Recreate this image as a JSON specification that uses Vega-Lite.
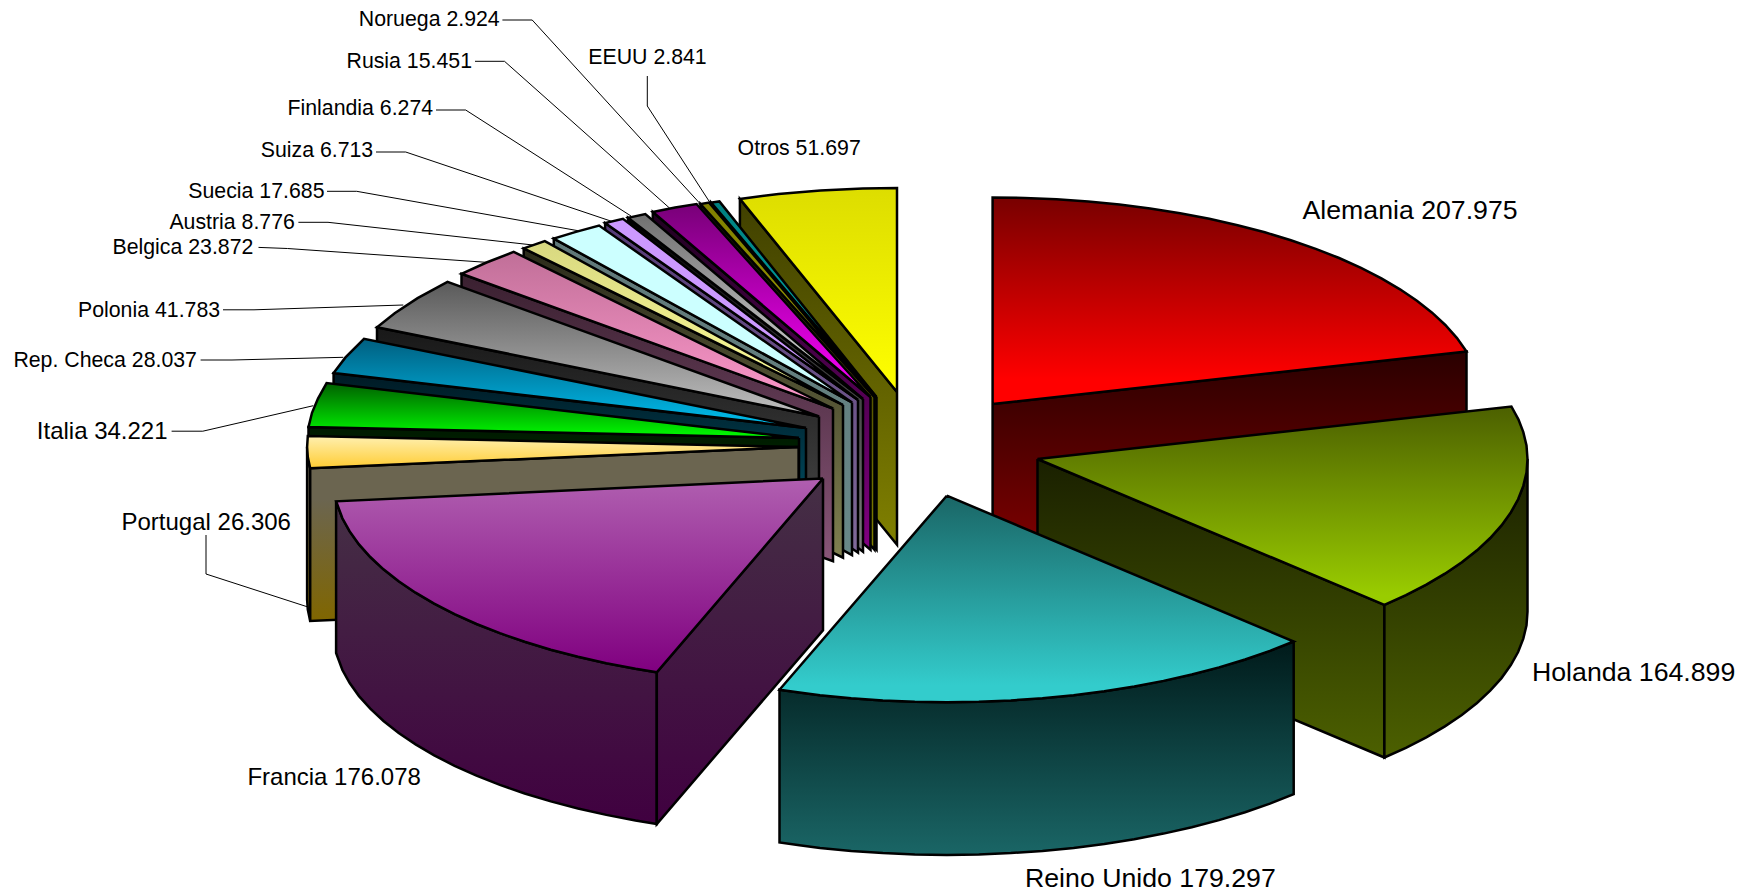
{"$schema":"https://vega.github.io/schema/vega-lite/v6.json","width":1747,"height":896,"padding":0,"autosize":{"type":"none"},"background":"white","view":{"stroke":null},
"datasets":{
"caras":[
{"cara":"Otros Lat","n":0,"x":897,"y":392},{"cara":"Otros Lat","n":1,"x":739.9,"y":198.9},{"cara":"Otros Lat","n":2,"x":739.9,"y":351.6},{"cara":"Otros Lat","n":3,"x":897,"y":544.7},{"cara":"Otros Lat","n":4,"x":897,"y":392},
{"cara":"Otros Sup","n":0,"x":897,"y":392},{"cara":"Otros Sup","n":1,"x":739.9,"y":198.9},{"cara":"Otros Sup","n":2,"x":778.5,"y":194},{"cara":"Otros Sup","n":3,"x":820.4,"y":190.5},{"cara":"Otros Sup","n":4,"x":862.8,"y":188.5},{"cara":"Otros Sup","n":5,"x":897,"y":188},{"cara":"Otros Sup","n":6,"x":897,"y":392},
{"cara":"EEUU Lat","n":0,"x":876.5,"y":397},{"cara":"EEUU Lat","n":1,"x":711.1,"y":202.6},{"cara":"EEUU Lat","n":2,"x":711.1,"y":355.3},{"cara":"EEUU Lat","n":3,"x":876.5,"y":549.7},{"cara":"EEUU Lat","n":4,"x":876.5,"y":397},
{"cara":"EEUU Sup","n":0,"x":876.5,"y":397},{"cara":"EEUU Sup","n":1,"x":711.1,"y":202.6},{"cara":"EEUU Sup","n":2,"x":719.4,"y":201.4},{"cara":"EEUU Sup","n":3,"x":876.5,"y":397},
{"cara":"Noruega Lat","n":0,"x":874.5,"y":397},{"cara":"Noruega Lat","n":1,"x":700.5,"y":204},{"cara":"Noruega Lat","n":2,"x":700.5,"y":356.7},{"cara":"Noruega Lat","n":3,"x":874.5,"y":549.7},{"cara":"Noruega Lat","n":4,"x":874.5,"y":397},
{"cara":"Noruega Sup","n":0,"x":874.5,"y":397},{"cara":"Noruega Sup","n":1,"x":700.5,"y":204},{"cara":"Noruega Sup","n":2,"x":709.1,"y":202.6},{"cara":"Noruega Sup","n":3,"x":874.5,"y":397},
{"cara":"Rusia Lat","n":0,"x":870.5,"y":397},{"cara":"Rusia Lat","n":1,"x":652.8,"y":212},{"cara":"Rusia Lat","n":2,"x":652.8,"y":364.7},{"cara":"Rusia Lat","n":3,"x":870.5,"y":549.7},{"cara":"Rusia Lat","n":4,"x":870.5,"y":397},
{"cara":"Rusia Sup","n":0,"x":870.5,"y":397},{"cara":"Rusia Sup","n":1,"x":652.8,"y":212},{"cara":"Rusia Sup","n":2,"x":675.1,"y":207.6},{"cara":"Rusia Sup","n":3,"x":696.5,"y":204},{"cara":"Rusia Sup","n":4,"x":870.5,"y":397},
{"cara":"Finlandia Lat","n":0,"x":863,"y":399},{"cara":"Finlandia Lat","n":1,"x":628,"y":217.8},{"cara":"Finlandia Lat","n":2,"x":628,"y":370.5},{"cara":"Finlandia Lat","n":3,"x":863,"y":551.7},{"cara":"Finlandia Lat","n":4,"x":863,"y":399},
{"cara":"Finlandia Sup","n":0,"x":863,"y":399},{"cara":"Finlandia Sup","n":1,"x":628,"y":217.8},{"cara":"Finlandia Sup","n":2,"x":645.3,"y":214},{"cara":"Finlandia Sup","n":3,"x":863,"y":399},
{"cara":"Suiza Lat","n":0,"x":858,"y":400},{"cara":"Suiza Lat","n":1,"x":605.1,"y":223.1},{"cara":"Suiza Lat","n":2,"x":605.1,"y":375.8},{"cara":"Suiza Lat","n":3,"x":858,"y":552.7},{"cara":"Suiza Lat","n":4,"x":858,"y":400},
{"cara":"Suiza Sup","n":0,"x":858,"y":400},{"cara":"Suiza Sup","n":1,"x":605.1,"y":223.1},{"cara":"Suiza Sup","n":2,"x":623,"y":218.8},{"cara":"Suiza Sup","n":3,"x":858,"y":400},
{"cara":"Suecia Lat","n":0,"x":852,"y":402.5},{"cara":"Suecia Lat","n":1,"x":553.8,"y":238.6},{"cara":"Suecia Lat","n":2,"x":553.8,"y":391.3},{"cara":"Suecia Lat","n":3,"x":852,"y":555.2},{"cara":"Suecia Lat","n":4,"x":852,"y":402.5},
{"cara":"Suecia Sup","n":0,"x":852,"y":402.5},{"cara":"Suecia Sup","n":1,"x":553.8,"y":238.6},{"cara":"Suecia Sup","n":2,"x":575.9,"y":231.9},{"cara":"Suecia Sup","n":3,"x":599.1,"y":225.6},{"cara":"Suecia Sup","n":4,"x":852,"y":402.5},
{"cara":"Austria Lat","n":0,"x":843,"y":405},{"cara":"Austria Lat","n":1,"x":523.7,"y":248.4},{"cara":"Austria Lat","n":2,"x":523.7,"y":401.1},{"cara":"Austria Lat","n":3,"x":843,"y":557.7},{"cara":"Austria Lat","n":4,"x":843,"y":405},
{"cara":"Austria Sup","n":0,"x":843,"y":405},{"cara":"Austria Sup","n":1,"x":523.7,"y":248.4},{"cara":"Austria Sup","n":2,"x":544.8,"y":241.1},{"cara":"Austria Sup","n":3,"x":843,"y":405},
{"cara":"Belgica Lat","n":0,"x":833,"y":408.5},{"cara":"Belgica Lat","n":1,"x":461.5,"y":273.8},{"cara":"Belgica Lat","n":2,"x":461.5,"y":426.5},{"cara":"Belgica Lat","n":3,"x":833,"y":561.2},{"cara":"Belgica Lat","n":4,"x":833,"y":408.5},
{"cara":"Belgica Sup","n":0,"x":833,"y":408.5},{"cara":"Belgica Sup","n":1,"x":461.5,"y":273.8},{"cara":"Belgica Sup","n":2,"x":486.5,"y":262.5},{"cara":"Belgica Sup","n":3,"x":513.7,"y":251.9},{"cara":"Belgica Sup","n":4,"x":833,"y":408.5},
{"cara":"Polonia Lat","n":0,"x":819,"y":416.5},{"cara":"Polonia Lat","n":1,"x":377,"y":327.3},{"cara":"Polonia Lat","n":2,"x":377,"y":480},{"cara":"Polonia Lat","n":3,"x":819,"y":569.2},{"cara":"Polonia Lat","n":4,"x":819,"y":416.5},
{"cara":"Polonia Sup","n":0,"x":819,"y":416.5},{"cara":"Polonia Sup","n":1,"x":377,"y":327.3},{"cara":"Polonia Sup","n":2,"x":394.7,"y":313.2},{"cara":"Polonia Sup","n":3,"x":417.6,"y":298.1},{"cara":"Polonia Sup","n":4,"x":447.5,"y":281.8},{"cara":"Polonia Sup","n":5,"x":819,"y":416.5},
{"cara":"Rep. Checa Lat","n":0,"x":806,"y":428},{"cara":"Rep. Checa Lat","n":1,"x":333.6,"y":373.1},{"cara":"Rep. Checa Lat","n":2,"x":333.6,"y":525.8},{"cara":"Rep. Checa Lat","n":3,"x":806,"y":580.7},{"cara":"Rep. Checa Lat","n":4,"x":806,"y":428},
{"cara":"Rep. Checa Sup","n":0,"x":806,"y":428},{"cara":"Rep. Checa Sup","n":1,"x":333.6,"y":373.1},{"cara":"Rep. Checa Sup","n":2,"x":345.5,"y":357.4},{"cara":"Rep. Checa Sup","n":3,"x":364,"y":338.8},{"cara":"Rep. Checa Sup","n":4,"x":806,"y":428},
{"cara":"Italia Lat","n":0,"x":799,"y":438},{"cara":"Italia Lat","n":1,"x":308.5,"y":427},{"cara":"Italia Lat","n":2,"x":308.5,"y":579.7},{"cara":"Italia Lat","n":3,"x":799,"y":590.7},{"cara":"Italia Lat","n":4,"x":799,"y":438},
{"cara":"Italia Sup","n":0,"x":799,"y":438},{"cara":"Italia Sup","n":1,"x":308.5,"y":427},{"cara":"Italia Sup","n":2,"x":312,"y":412.8},{"cara":"Italia Sup","n":3,"x":318,"y":398.6},{"cara":"Italia Sup","n":4,"x":326.6,"y":383.1},{"cara":"Italia Sup","n":5,"x":799,"y":438},
{"cara":"Portugal Arc","n":0,"x":310.2,"y":468.3},{"cara":"Portugal Arc","n":1,"x":307.8,"y":457},{"cara":"Portugal Arc","n":2,"x":307.1,"y":447},{"cara":"Portugal Arc","n":3,"x":307.1,"y":599.7},{"cara":"Portugal Arc","n":4,"x":307.8,"y":609.7},{"cara":"Portugal Arc","n":5,"x":310.2,"y":621},{"cara":"Portugal Arc","n":6,"x":310.2,"y":468.3},
{"cara":"Portugal Lat","n":0,"x":798.6,"y":447},{"cara":"Portugal Lat","n":1,"x":310.2,"y":468.3},{"cara":"Portugal Lat","n":2,"x":310.2,"y":621},{"cara":"Portugal Lat","n":3,"x":798.6,"y":599.7},{"cara":"Portugal Lat","n":4,"x":798.6,"y":447},
{"cara":"Portugal Sup","n":0,"x":798.6,"y":447},{"cara":"Portugal Sup","n":1,"x":310.2,"y":468.3},{"cara":"Portugal Sup","n":2,"x":307.8,"y":457},{"cara":"Portugal Sup","n":3,"x":307.1,"y":447},{"cara":"Portugal Sup","n":4,"x":307.8,"y":436},{"cara":"Portugal Sup","n":5,"x":798.6,"y":447},
{"cara":"Alemania Lat","n":0,"x":992.6,"y":404},{"cara":"Alemania Lat","n":1,"x":1466.5,"y":351.5},{"cara":"Alemania Lat","n":2,"x":1466.5,"y":504.2},{"cara":"Alemania Lat","n":3,"x":992.6,"y":556.7},{"cara":"Alemania Lat","n":4,"x":992.6,"y":404},
{"cara":"Alemania Sup","n":0,"x":992.6,"y":404},{"cara":"Alemania Sup","n":1,"x":992.6,"y":197.5},{"cara":"Alemania Sup","n":2,"x":1024.6,"y":197.9},{"cara":"Alemania Sup","n":3,"x":1056.6,"y":199.3},{"cara":"Alemania Sup","n":4,"x":1088.2,"y":201.5},{"cara":"Alemania Sup","n":5,"x":1119.4,"y":204.5},{"cara":"Alemania Sup","n":6,"x":1150.1,"y":208.5},{"cara":"Alemania Sup","n":7,"x":1180.1,"y":213.2},{"cara":"Alemania Sup","n":8,"x":1209.3,"y":218.8},{"cara":"Alemania Sup","n":9,"x":1237.6,"y":225.2},{"cara":"Alemania Sup","n":10,"x":1264.8,"y":232.3},{"cara":"Alemania Sup","n":11,"x":1290.9,"y":240.2},{"cara":"Alemania Sup","n":12,"x":1315.7,"y":248.8},{"cara":"Alemania Sup","n":13,"x":1339.1,"y":258},{"cara":"Alemania Sup","n":14,"x":1361,"y":267.9},{"cara":"Alemania Sup","n":15,"x":1381.4,"y":278.3},{"cara":"Alemania Sup","n":16,"x":1400,"y":289.3},{"cara":"Alemania Sup","n":17,"x":1416.9,"y":300.7},{"cara":"Alemania Sup","n":18,"x":1432.1,"y":312.7},{"cara":"Alemania Sup","n":19,"x":1445.3,"y":325},{"cara":"Alemania Sup","n":20,"x":1457,"y":338.1},{"cara":"Alemania Sup","n":21,"x":1466.5,"y":351.5},{"cara":"Alemania Sup","n":22,"x":992.6,"y":404},
{"cara":"Holanda Lat","n":0,"x":1037.5,"y":459},{"cara":"Holanda Lat","n":1,"x":1384.4,"y":604.8},{"cara":"Holanda Lat","n":2,"x":1384.4,"y":757.5},{"cara":"Holanda Lat","n":3,"x":1037.5,"y":611.7},{"cara":"Holanda Lat","n":4,"x":1037.5,"y":459},
{"cara":"Holanda Arc","n":0,"x":1527.5,"y":459},{"cara":"Holanda Arc","n":1,"x":1526.5,"y":472.5},{"cara":"Holanda Arc","n":2,"x":1523.3,"y":485.9},{"cara":"Holanda Arc","n":3,"x":1518.1,"y":499.3},{"cara":"Holanda Arc","n":4,"x":1510.8,"y":512.4},{"cara":"Holanda Arc","n":5,"x":1501.5,"y":525.4},{"cara":"Holanda Arc","n":6,"x":1490.2,"y":538},{"cara":"Holanda Arc","n":7,"x":1477,"y":550.3},{"cara":"Holanda Arc","n":8,"x":1461.8,"y":562.3},{"cara":"Holanda Arc","n":9,"x":1444.9,"y":573.7},{"cara":"Holanda Arc","n":10,"x":1426.3,"y":584.7},{"cara":"Holanda Arc","n":11,"x":1405.9,"y":595.1},{"cara":"Holanda Arc","n":12,"x":1384.4,"y":604.8},{"cara":"Holanda Arc","n":13,"x":1384.4,"y":757.5},{"cara":"Holanda Arc","n":14,"x":1405.9,"y":747.8},{"cara":"Holanda Arc","n":15,"x":1426.3,"y":737.4},{"cara":"Holanda Arc","n":16,"x":1444.9,"y":726.4},{"cara":"Holanda Arc","n":17,"x":1461.8,"y":715},{"cara":"Holanda Arc","n":18,"x":1477,"y":703},{"cara":"Holanda Arc","n":19,"x":1490.2,"y":690.7},{"cara":"Holanda Arc","n":20,"x":1501.5,"y":678.1},{"cara":"Holanda Arc","n":21,"x":1510.8,"y":665.1},{"cara":"Holanda Arc","n":22,"x":1518.1,"y":652},{"cara":"Holanda Arc","n":23,"x":1523.3,"y":638.6},{"cara":"Holanda Arc","n":24,"x":1526.5,"y":625.2},{"cara":"Holanda Arc","n":25,"x":1527.5,"y":611.7},{"cara":"Holanda Arc","n":26,"x":1527.5,"y":459},
{"cara":"Holanda Sup","n":0,"x":1037.5,"y":459},{"cara":"Holanda Sup","n":1,"x":1511.4,"y":406.5},{"cara":"Holanda Sup","n":2,"x":1518.5,"y":419.6},{"cara":"Holanda Sup","n":3,"x":1523.3,"y":432.1},{"cara":"Holanda Sup","n":4,"x":1526.5,"y":445.5},{"cara":"Holanda Sup","n":5,"x":1527.5,"y":459},{"cara":"Holanda Sup","n":6,"x":1526.5,"y":472.5},{"cara":"Holanda Sup","n":7,"x":1523.3,"y":485.9},{"cara":"Holanda Sup","n":8,"x":1518.1,"y":499.3},{"cara":"Holanda Sup","n":9,"x":1510.8,"y":512.4},{"cara":"Holanda Sup","n":10,"x":1501.5,"y":525.4},{"cara":"Holanda Sup","n":11,"x":1490.2,"y":538},{"cara":"Holanda Sup","n":12,"x":1477,"y":550.3},{"cara":"Holanda Sup","n":13,"x":1461.8,"y":562.3},{"cara":"Holanda Sup","n":14,"x":1444.9,"y":573.7},{"cara":"Holanda Sup","n":15,"x":1426.3,"y":584.7},{"cara":"Holanda Sup","n":16,"x":1405.9,"y":595.1},{"cara":"Holanda Sup","n":17,"x":1384.4,"y":604.8},{"cara":"Holanda Sup","n":18,"x":1037.5,"y":459},
{"cara":"Francia Arc","n":0,"x":656.8,"y":672.3},{"cara":"Francia Arc","n":1,"x":635.5,"y":668.8},{"cara":"Francia Arc","n":2,"x":606.3,"y":663.2},{"cara":"Francia Arc","n":3,"x":578,"y":656.8},{"cara":"Francia Arc","n":4,"x":550.8,"y":649.7},{"cara":"Francia Arc","n":5,"x":524.7,"y":641.8},{"cara":"Francia Arc","n":6,"x":499.9,"y":633.2},{"cara":"Francia Arc","n":7,"x":476.5,"y":624},{"cara":"Francia Arc","n":8,"x":454.6,"y":614.1},{"cara":"Francia Arc","n":9,"x":434.2,"y":603.7},{"cara":"Francia Arc","n":10,"x":415.6,"y":592.7},{"cara":"Francia Arc","n":11,"x":398.7,"y":581.3},{"cara":"Francia Arc","n":12,"x":383.5,"y":569.3},{"cara":"Francia Arc","n":13,"x":370.3,"y":557},{"cara":"Francia Arc","n":14,"x":359,"y":544.4},{"cara":"Francia Arc","n":15,"x":349.7,"y":531.4},{"cara":"Francia Arc","n":16,"x":342.4,"y":518.3},{"cara":"Francia Arc","n":17,"x":336.1,"y":501.3},{"cara":"Francia Arc","n":18,"x":336.1,"y":653},{"cara":"Francia Arc","n":19,"x":342.4,"y":670},{"cara":"Francia Arc","n":20,"x":349.7,"y":683.1},{"cara":"Francia Arc","n":21,"x":359,"y":696.1},{"cara":"Francia Arc","n":22,"x":370.3,"y":708.7},{"cara":"Francia Arc","n":23,"x":383.5,"y":721},{"cara":"Francia Arc","n":24,"x":398.7,"y":733},{"cara":"Francia Arc","n":25,"x":415.6,"y":744.4},{"cara":"Francia Arc","n":26,"x":434.2,"y":755.4},{"cara":"Francia Arc","n":27,"x":454.6,"y":765.8},{"cara":"Francia Arc","n":28,"x":476.5,"y":775.7},{"cara":"Francia Arc","n":29,"x":499.9,"y":784.9},{"cara":"Francia Arc","n":30,"x":524.7,"y":793.5},{"cara":"Francia Arc","n":31,"x":550.8,"y":801.4},{"cara":"Francia Arc","n":32,"x":578,"y":808.5},{"cara":"Francia Arc","n":33,"x":606.3,"y":814.9},{"cara":"Francia Arc","n":34,"x":635.5,"y":820.5},{"cara":"Francia Arc","n":35,"x":656.8,"y":824},{"cara":"Francia Arc","n":36,"x":656.8,"y":672.3},
{"cara":"Francia Lat","n":0,"x":823,"y":478.5},{"cara":"Francia Lat","n":1,"x":656.8,"y":672.3},{"cara":"Francia Lat","n":2,"x":656.8,"y":824},{"cara":"Francia Lat","n":3,"x":823,"y":630.2},{"cara":"Francia Lat","n":4,"x":823,"y":478.5},
{"cara":"Francia Sup","n":0,"x":823,"y":478.5},{"cara":"Francia Sup","n":1,"x":656.8,"y":672.3},{"cara":"Francia Sup","n":2,"x":635.5,"y":668.8},{"cara":"Francia Sup","n":3,"x":606.3,"y":663.2},{"cara":"Francia Sup","n":4,"x":578,"y":656.8},{"cara":"Francia Sup","n":5,"x":550.8,"y":649.7},{"cara":"Francia Sup","n":6,"x":524.7,"y":641.8},{"cara":"Francia Sup","n":7,"x":499.9,"y":633.2},{"cara":"Francia Sup","n":8,"x":476.5,"y":624},{"cara":"Francia Sup","n":9,"x":454.6,"y":614.1},{"cara":"Francia Sup","n":10,"x":434.2,"y":603.7},{"cara":"Francia Sup","n":11,"x":415.6,"y":592.7},{"cara":"Francia Sup","n":12,"x":398.7,"y":581.3},{"cara":"Francia Sup","n":13,"x":383.5,"y":569.3},{"cara":"Francia Sup","n":14,"x":370.3,"y":557},{"cara":"Francia Sup","n":15,"x":359,"y":544.4},{"cara":"Francia Sup","n":16,"x":349.7,"y":531.4},{"cara":"Francia Sup","n":17,"x":342.4,"y":518.3},{"cara":"Francia Sup","n":18,"x":336.1,"y":501.3},{"cara":"Francia Sup","n":19,"x":823,"y":478.5},
{"cara":"Reino Unido Arc","n":0,"x":1293.7,"y":641.5},{"cara":"Reino Unido Arc","n":1,"x":1269.9,"y":650.9},{"cara":"Reino Unido Arc","n":2,"x":1245.1,"y":659.5},{"cara":"Reino Unido Arc","n":3,"x":1219,"y":667.4},{"cara":"Reino Unido Arc","n":4,"x":1191.8,"y":674.5},{"cara":"Reino Unido Arc","n":5,"x":1163.5,"y":680.9},{"cara":"Reino Unido Arc","n":6,"x":1134.3,"y":686.5},{"cara":"Reino Unido Arc","n":7,"x":1104.3,"y":691.2},{"cara":"Reino Unido Arc","n":8,"x":1073.6,"y":695.2},{"cara":"Reino Unido Arc","n":9,"x":1042.4,"y":698.2},{"cara":"Reino Unido Arc","n":10,"x":1010.8,"y":700.4},{"cara":"Reino Unido Arc","n":11,"x":978.8,"y":701.8},{"cara":"Reino Unido Arc","n":12,"x":946.8,"y":702.2},{"cara":"Reino Unido Arc","n":13,"x":914.8,"y":701.8},{"cara":"Reino Unido Arc","n":14,"x":882.8,"y":700.4},{"cara":"Reino Unido Arc","n":15,"x":851.2,"y":698.2},{"cara":"Reino Unido Arc","n":16,"x":820,"y":695.2},{"cara":"Reino Unido Arc","n":17,"x":799.5,"y":692.6},{"cara":"Reino Unido Arc","n":18,"x":779.5,"y":689.8},{"cara":"Reino Unido Arc","n":19,"x":779.5,"y":842.5},{"cara":"Reino Unido Arc","n":20,"x":799.5,"y":845.3},{"cara":"Reino Unido Arc","n":21,"x":820,"y":847.9},{"cara":"Reino Unido Arc","n":22,"x":851.2,"y":850.9},{"cara":"Reino Unido Arc","n":23,"x":882.8,"y":853.1},{"cara":"Reino Unido Arc","n":24,"x":914.8,"y":854.5},{"cara":"Reino Unido Arc","n":25,"x":946.8,"y":854.9},{"cara":"Reino Unido Arc","n":26,"x":978.8,"y":854.5},{"cara":"Reino Unido Arc","n":27,"x":1010.8,"y":853.1},{"cara":"Reino Unido Arc","n":28,"x":1042.4,"y":850.9},{"cara":"Reino Unido Arc","n":29,"x":1073.6,"y":847.9},{"cara":"Reino Unido Arc","n":30,"x":1104.3,"y":843.9},{"cara":"Reino Unido Arc","n":31,"x":1134.3,"y":839.2},{"cara":"Reino Unido Arc","n":32,"x":1163.5,"y":833.6},{"cara":"Reino Unido Arc","n":33,"x":1191.8,"y":827.2},{"cara":"Reino Unido Arc","n":34,"x":1219,"y":820.1},{"cara":"Reino Unido Arc","n":35,"x":1245.1,"y":812.2},{"cara":"Reino Unido Arc","n":36,"x":1269.9,"y":803.6},{"cara":"Reino Unido Arc","n":37,"x":1293.7,"y":794.2},{"cara":"Reino Unido Arc","n":38,"x":1293.7,"y":641.5},
{"cara":"Reino Unido Sup","n":0,"x":946.8,"y":495.7},{"cara":"Reino Unido Sup","n":1,"x":1293.7,"y":641.5},{"cara":"Reino Unido Sup","n":2,"x":1269.9,"y":650.9},{"cara":"Reino Unido Sup","n":3,"x":1245.1,"y":659.5},{"cara":"Reino Unido Sup","n":4,"x":1219,"y":667.4},{"cara":"Reino Unido Sup","n":5,"x":1191.8,"y":674.5},{"cara":"Reino Unido Sup","n":6,"x":1163.5,"y":680.9},{"cara":"Reino Unido Sup","n":7,"x":1134.3,"y":686.5},{"cara":"Reino Unido Sup","n":8,"x":1104.3,"y":691.2},{"cara":"Reino Unido Sup","n":9,"x":1073.6,"y":695.2},{"cara":"Reino Unido Sup","n":10,"x":1042.4,"y":698.2},{"cara":"Reino Unido Sup","n":11,"x":1010.8,"y":700.4},{"cara":"Reino Unido Sup","n":12,"x":978.8,"y":701.8},{"cara":"Reino Unido Sup","n":13,"x":946.8,"y":702.2},{"cara":"Reino Unido Sup","n":14,"x":914.8,"y":701.8},{"cara":"Reino Unido Sup","n":15,"x":882.8,"y":700.4},{"cara":"Reino Unido Sup","n":16,"x":851.2,"y":698.2},{"cara":"Reino Unido Sup","n":17,"x":820,"y":695.2},{"cara":"Reino Unido Sup","n":18,"x":799.5,"y":692.6},{"cara":"Reino Unido Sup","n":19,"x":779.5,"y":689.8},{"cara":"Reino Unido Sup","n":20,"x":946.8,"y":495.7}
],
"guias":[
{"pais":"Noruega","n":0,"x":502.4,"y":20},{"pais":"Noruega","n":1,"x":532.2,"y":20},{"pais":"Noruega","n":2,"x":700.4,"y":204},
{"pais":"EEUU","n":0,"x":647.3,"y":76},{"pais":"EEUU","n":1,"x":647.3,"y":106},{"pais":"EEUU","n":2,"x":709.4,"y":201.7},
{"pais":"Rusia","n":0,"x":475,"y":61.3},{"pais":"Rusia","n":1,"x":504.5,"y":61.3},{"pais":"Rusia","n":2,"x":669.8,"y":208.3},
{"pais":"Finlandia","n":0,"x":436,"y":110},{"pais":"Finlandia","n":1,"x":465.7,"y":110},{"pais":"Finlandia","n":2,"x":631,"y":216},
{"pais":"Suiza","n":0,"x":376,"y":152},{"pais":"Suiza","n":1,"x":405.7,"y":152},{"pais":"Suiza","n":2,"x":612.7,"y":221.7},
{"pais":"Suecia","n":0,"x":327,"y":191.3},{"pais":"Suecia","n":1,"x":356.7,"y":191.3},{"pais":"Suecia","n":2,"x":578,"y":230.7},
{"pais":"Austria","n":0,"x":298.4,"y":222.3},{"pais":"Austria","n":1,"x":328,"y":222.3},{"pais":"Austria","n":2,"x":533,"y":245},
{"pais":"Belgica","n":0,"x":258.5,"y":247.4},{"pais":"Belgica","n":1,"x":287.5,"y":248.5},{"pais":"Belgica","n":2,"x":486,"y":262.3},
{"pais":"Polonia","n":0,"x":223,"y":309.8},{"pais":"Polonia","n":1,"x":254,"y":309.8},{"pais":"Polonia","n":2,"x":403.3,"y":305},
{"pais":"Rep. Checa","n":0,"x":200.6,"y":360},{"pais":"Rep. Checa","n":1,"x":232,"y":360},{"pais":"Rep. Checa","n":2,"x":343.3,"y":357.3},
{"pais":"Italia","n":0,"x":171.6,"y":431.2},{"pais":"Italia","n":1,"x":202.8,"y":431.2},{"pais":"Italia","n":2,"x":313.3,"y":405.7},
{"pais":"Portugal","n":0,"x":206,"y":535},{"pais":"Portugal","n":1,"x":206,"y":574},{"pais":"Portugal","n":2,"x":307,"y":606.7}
],
"etiquetas":[
{"pais":"Alemania","valor":207975,"texto":"Alemania 207.975","grupo":"grande","x":1302.5,"y":209.5},
{"pais":"Holanda","valor":164899,"texto":"Holanda 164.899","grupo":"grande","x":1532,"y":672},
{"pais":"Reino Unido","valor":179297,"texto":"Reino Unido 179.297","grupo":"grande","x":1025,"y":878},
{"pais":"Francia","valor":176078,"texto":"Francia 176.078","grupo":"media","x":247.4,"y":776.6},
{"pais":"Portugal","valor":26306,"texto":"Portugal 26.306","grupo":"media","x":121.5,"y":521.5},
{"pais":"Italia","valor":34221,"texto":"Italia 34.221","grupo":"media","x":36.8,"y":431.2},
{"pais":"Rep. Checa","valor":28037,"texto":"Rep. Checa 28.037","grupo":"chica","x":13.4,"y":360},
{"pais":"Polonia","valor":41783,"texto":"Polonia 41.783","grupo":"chica","x":78,"y":309.8},
{"pais":"Belgica","valor":23872,"texto":"Belgica 23.872","grupo":"chica","x":112.5,"y":247.4},
{"pais":"Austria","valor":8776,"texto":"Austria 8.776","grupo":"chica","x":169.4,"y":221.7},
{"pais":"Suecia","valor":17685,"texto":"Suecia 17.685","grupo":"chica","x":188.3,"y":190.5},
{"pais":"Suiza","valor":6713,"texto":"Suiza 6.713","grupo":"chica","x":260.7,"y":150.4},
{"pais":"Finlandia","valor":6274,"texto":"Finlandia 6.274","grupo":"chica","x":287.5,"y":108},
{"pais":"Rusia","valor":15451,"texto":"Rusia 15.451","grupo":"chica","x":346.5,"y":61.3},
{"pais":"Noruega","valor":2924,"texto":"Noruega 2.924","grupo":"chica","x":358.8,"y":19},
{"pais":"EEUU","valor":2841,"texto":"EEUU 2.841","grupo":"chica","x":588.3,"y":56.8},
{"pais":"Otros","valor":51697,"texto":"Otros 51.697","grupo":"chica","x":737.6,"y":148.2}
]},
"layer":[
{"data":{"name":"guias"},"mark":{"type":"line","stroke":"#000000","strokeWidth":1},
"encoding":{"x":{"field":"x","type":"quantitative","scale":{"domain":[0,1747],"nice":false,"zero":false},"axis":null},"y":{"field":"y","type":"quantitative","scale":{"domain":[896,0],"nice":false,"zero":false},"axis":null},"detail":{"field":"pais"},"order":{"field":"n","type":"quantitative"}}},
{"data":{"name":"caras"},
"encoding":{"x":{"field":"x","type":"quantitative","scale":{"domain":[0,1747],"nice":false,"zero":false},"axis":null},"y":{"field":"y","type":"quantitative","scale":{"domain":[896,0],"nice":false,"zero":false},"axis":null},"order":{"field":"n","type":"quantitative"}},
"layer":[
{"transform":[{"filter":{"field":"cara","equal":"Otros Lat"}}],"mark":{"type":"line","stroke":"#000000","strokeWidth":2.5,"fill":{"gradient":"linear","x1":0,"y1":0,"x2":0,"y2":1,"stops":[{"offset":0,"color":"#404000"},{"offset":1,"color":"#808000"}]}}},
{"transform":[{"filter":{"field":"cara","equal":"Otros Sup"}}],"mark":{"type":"line","stroke":"#000000","strokeWidth":2.5,"fill":{"gradient":"linear","x1":0,"y1":0,"x2":0,"y2":1,"stops":[{"offset":0,"color":"#dddd00"},{"offset":1,"color":"#ffff00"}]}}},
{"transform":[{"filter":{"field":"cara","equal":"EEUU Lat"}}],"mark":{"type":"line","stroke":"#000000","strokeWidth":2.5,"fill":{"gradient":"linear","x1":0,"y1":0,"x2":0,"y2":1,"stops":[{"offset":0,"color":"#001010"},{"offset":1,"color":"#004040"}]}}},
{"transform":[{"filter":{"field":"cara","equal":"EEUU Sup"}}],"mark":{"type":"line","stroke":"#000000","strokeWidth":2.5,"fill":{"gradient":"linear","x1":0,"y1":0,"x2":0,"y2":1,"stops":[{"offset":0,"color":"#008080"},{"offset":1,"color":"#00b0b0"}]}}},
{"transform":[{"filter":{"field":"cara","equal":"Noruega Lat"}}],"mark":{"type":"line","stroke":"#000000","strokeWidth":2.5,"fill":{"gradient":"linear","x1":0,"y1":0,"x2":0,"y2":1,"stops":[{"offset":0,"color":"#202000"},{"offset":1,"color":"#808000"}]}}},
{"transform":[{"filter":{"field":"cara","equal":"Noruega Sup"}}],"mark":{"type":"line","stroke":"#000000","strokeWidth":2.5,"fill":{"gradient":"linear","x1":0,"y1":0,"x2":0,"y2":1,"stops":[{"offset":0,"color":"#808000"},{"offset":1,"color":"#a0a000"}]}}},
{"transform":[{"filter":{"field":"cara","equal":"Rusia Lat"}}],"mark":{"type":"line","stroke":"#000000","strokeWidth":2.5,"fill":{"gradient":"linear","x1":0,"y1":0,"x2":0,"y2":1,"stops":[{"offset":0,"color":"#200020"},{"offset":1,"color":"#800080"}]}}},
{"transform":[{"filter":{"field":"cara","equal":"Rusia Sup"}}],"mark":{"type":"line","stroke":"#000000","strokeWidth":2.5,"fill":{"gradient":"linear","x1":0,"y1":0,"x2":0,"y2":1,"stops":[{"offset":0,"color":"#780078"},{"offset":1,"color":"#ff00ff"}]}}},
{"transform":[{"filter":{"field":"cara","equal":"Finlandia Lat"}}],"mark":{"type":"line","stroke":"#000000","strokeWidth":2.5,"fill":{"gradient":"linear","x1":0,"y1":0,"x2":0,"y2":1,"stops":[{"offset":0,"color":"#000000"},{"offset":1,"color":"#808080"}]}}},
{"transform":[{"filter":{"field":"cara","equal":"Finlandia Sup"}}],"mark":{"type":"line","stroke":"#000000","strokeWidth":2.5,"fill":{"gradient":"linear","x1":0,"y1":0,"x2":0,"y2":1,"stops":[{"offset":0,"color":"#707070"},{"offset":1,"color":"#e0e0e0"}]}}},
{"transform":[{"filter":{"field":"cara","equal":"Suiza Lat"}}],"mark":{"type":"line","stroke":"#000000","strokeWidth":2.5,"fill":{"gradient":"linear","x1":0,"y1":0,"x2":0,"y2":1,"stops":[{"offset":0,"color":"#553a77"},{"offset":1,"color":"#806a99"}]}}},
{"transform":[{"filter":{"field":"cara","equal":"Suiza Sup"}}],"mark":{"type":"line","stroke":"#000000","strokeWidth":2.5,"fill":"#cc99ff"}},
{"transform":[{"filter":{"field":"cara","equal":"Suecia Lat"}}],"mark":{"type":"line","stroke":"#000000","strokeWidth":2.5,"fill":{"gradient":"linear","x1":0,"y1":0,"x2":0,"y2":1,"stops":[{"offset":0,"color":"#607878"},{"offset":1,"color":"#688888"}]}}},
{"transform":[{"filter":{"field":"cara","equal":"Suecia Sup"}}],"mark":{"type":"line","stroke":"#000000","strokeWidth":2.5,"fill":"#ccffff"}},
{"transform":[{"filter":{"field":"cara","equal":"Austria Lat"}}],"mark":{"type":"line","stroke":"#000000","strokeWidth":2.5,"fill":{"gradient":"linear","x1":0,"y1":0,"x2":0,"y2":1,"stops":[{"offset":0,"color":"#2a2a1a"},{"offset":1,"color":"#808050"}]}}},
{"transform":[{"filter":{"field":"cara","equal":"Austria Sup"}}],"mark":{"type":"line","stroke":"#000000","strokeWidth":2.5,"fill":{"gradient":"linear","x1":0,"y1":0,"x2":0,"y2":1,"stops":[{"offset":0,"color":"#d8d880"},{"offset":1,"color":"#ffff99"}]}}},
{"transform":[{"filter":{"field":"cara","equal":"Belgica Lat"}}],"mark":{"type":"line","stroke":"#000000","strokeWidth":2.5,"fill":{"gradient":"linear","x1":0,"y1":0,"x2":0,"y2":1,"stops":[{"offset":0,"color":"#3a2030"},{"offset":1,"color":"#885578"}]}}},
{"transform":[{"filter":{"field":"cara","equal":"Belgica Sup"}}],"mark":{"type":"line","stroke":"#000000","strokeWidth":2.5,"fill":{"gradient":"linear","x1":0,"y1":0,"x2":0,"y2":1,"stops":[{"offset":0,"color":"#c06f98"},{"offset":1,"color":"#ff99cc"}]}}},
{"transform":[{"filter":{"field":"cara","equal":"Polonia Lat"}}],"mark":{"type":"line","stroke":"#000000","strokeWidth":2.5,"fill":{"gradient":"linear","x1":0,"y1":0,"x2":0,"y2":1,"stops":[{"offset":0,"color":"#181818"},{"offset":1,"color":"#505050"}]}}},
{"transform":[{"filter":{"field":"cara","equal":"Polonia Sup"}}],"mark":{"type":"line","stroke":"#000000","strokeWidth":2.5,"fill":{"gradient":"linear","x1":0,"y1":0,"x2":0,"y2":1,"stops":[{"offset":0,"color":"#5a5a5a"},{"offset":1,"color":"#c0c0c0"}]}}},
{"transform":[{"filter":{"field":"cara","equal":"Rep. Checa Lat"}}],"mark":{"type":"line","stroke":"#000000","strokeWidth":2.5,"fill":{"gradient":"linear","x1":0,"y1":0,"x2":0,"y2":1,"stops":[{"offset":0,"color":"#001a24"},{"offset":1,"color":"#006680"}]}}},
{"transform":[{"filter":{"field":"cara","equal":"Rep. Checa Sup"}}],"mark":{"type":"line","stroke":"#000000","strokeWidth":2.5,"fill":{"gradient":"linear","x1":0,"y1":0,"x2":0,"y2":1,"stops":[{"offset":0,"color":"#005f80"},{"offset":1,"color":"#00c0f0"}]}}},
{"transform":[{"filter":{"field":"cara","equal":"Italia Lat"}}],"mark":{"type":"line","stroke":"#000000","strokeWidth":2.5,"fill":{"gradient":"linear","x1":0,"y1":0,"x2":0,"y2":1,"stops":[{"offset":0,"color":"#001a00"},{"offset":1,"color":"#004000"}]}}},
{"transform":[{"filter":{"field":"cara","equal":"Italia Sup"}}],"mark":{"type":"line","stroke":"#000000","strokeWidth":2.5,"fill":{"gradient":"linear","x1":0,"y1":0,"x2":0,"y2":1,"stops":[{"offset":0,"color":"#006000"},{"offset":1,"color":"#00ff00"}]}}},
{"transform":[{"filter":{"field":"cara","equal":"Portugal Arc"}}],"mark":{"type":"line","stroke":"#000000","strokeWidth":2.5,"fill":{"gradient":"linear","x1":0,"y1":0,"x2":0,"y2":1,"stops":[{"offset":0,"color":"#6b6550"},{"offset":0.3,"color":"#6b6550"},{"offset":1,"color":"#806600"}]}}},
{"transform":[{"filter":{"field":"cara","equal":"Portugal Lat"}}],"mark":{"type":"line","stroke":"#000000","strokeWidth":2.5,"fill":{"gradient":"linear","x1":0,"y1":0,"x2":0,"y2":1,"stops":[{"offset":0,"color":"#6b6550"},{"offset":0.3,"color":"#6b6550"},{"offset":1,"color":"#806600"}]}}},
{"transform":[{"filter":{"field":"cara","equal":"Portugal Sup"}}],"mark":{"type":"line","stroke":"#000000","strokeWidth":2.5,"fill":{"gradient":"linear","x1":0,"y1":0,"x2":0,"y2":1,"stops":[{"offset":0,"color":"#fff0b0"},{"offset":1,"color":"#ffcc33"}]}}},
{"transform":[{"filter":{"field":"cara","equal":"Alemania Lat"}}],"mark":{"type":"line","stroke":"#000000","strokeWidth":2.5,"fill":{"gradient":"linear","x1":0,"y1":0,"x2":0,"y2":1,"stops":[{"offset":0,"color":"#2a0000"},{"offset":1,"color":"#800000"}]}}},
{"transform":[{"filter":{"field":"cara","equal":"Alemania Sup"}}],"mark":{"type":"line","stroke":"#000000","strokeWidth":2.5,"fill":{"gradient":"linear","x1":0,"y1":0,"x2":0,"y2":1,"stops":[{"offset":0,"color":"#780000"},{"offset":0.88,"color":"#ff0000"},{"offset":1,"color":"#ff0000"}]}}},
{"transform":[{"filter":{"field":"cara","equal":"Holanda Lat"}}],"mark":{"type":"line","stroke":"#000000","strokeWidth":2.5,"fill":{"gradient":"linear","x1":0,"y1":0,"x2":0,"y2":1,"stops":[{"offset":0,"color":"#1a2000"},{"offset":1,"color":"#4c6000"}]}}},
{"transform":[{"filter":{"field":"cara","equal":"Holanda Arc"}}],"mark":{"type":"line","stroke":"#000000","strokeWidth":2.5,"fill":{"gradient":"linear","x1":0,"y1":0,"x2":0,"y2":1,"stops":[{"offset":0,"color":"#1a2000"},{"offset":1,"color":"#4c6000"}]}}},
{"transform":[{"filter":{"field":"cara","equal":"Holanda Sup"}}],"mark":{"type":"line","stroke":"#000000","strokeWidth":2.5,"fill":{"gradient":"linear","x1":0,"y1":0,"x2":0,"y2":1,"stops":[{"offset":0,"color":"#4c6000"},{"offset":0.95,"color":"#99cc00"},{"offset":1,"color":"#99cc00"}]}}},
{"transform":[{"filter":{"field":"cara","equal":"Francia Arc"}}],"mark":{"type":"line","stroke":"#000000","strokeWidth":2.5,"fill":{"gradient":"linear","x1":0,"y1":0,"x2":0,"y2":1,"stops":[{"offset":0,"color":"#453045"},{"offset":1,"color":"#400040"}]}}},
{"transform":[{"filter":{"field":"cara","equal":"Francia Lat"}}],"mark":{"type":"line","stroke":"#000000","strokeWidth":2.5,"fill":{"gradient":"linear","x1":0,"y1":0,"x2":0,"y2":1,"stops":[{"offset":0,"color":"#453045"},{"offset":1,"color":"#400040"}]}}},
{"transform":[{"filter":{"field":"cara","equal":"Francia Sup"}}],"mark":{"type":"line","stroke":"#000000","strokeWidth":2.5,"fill":{"gradient":"linear","x1":0,"y1":0,"x2":0,"y2":1,"stops":[{"offset":0,"color":"#b05fb0"},{"offset":1,"color":"#800080"}]}}},
{"transform":[{"filter":{"field":"cara","equal":"Reino Unido Arc"}}],"mark":{"type":"line","stroke":"#000000","strokeWidth":2.5,"fill":{"gradient":"linear","x1":0,"y1":0,"x2":0,"y2":1,"stops":[{"offset":0,"color":"#001a1a"},{"offset":1,"color":"#1a6666"}]}}},
{"transform":[{"filter":{"field":"cara","equal":"Reino Unido Sup"}}],"mark":{"type":"line","stroke":"#000000","strokeWidth":2.5,"fill":{"gradient":"linear","x1":0,"y1":0,"x2":0,"y2":1,"stops":[{"offset":0,"color":"#1a6666"},{"offset":0.92,"color":"#33cccc"},{"offset":1,"color":"#33cccc"}]}}}
]},
{"data":{"name":"etiquetas"},"mark":{"type":"text","align":"left","baseline":"middle","font":"Liberation Sans","color":"#000000","dy":1},
"encoding":{"x":{"field":"x","type":"quantitative","scale":{"domain":[0,1747],"nice":false,"zero":false},"axis":null},"y":{"field":"y","type":"quantitative","scale":{"domain":[896,0],"nice":false,"zero":false},"axis":null},"text":{"field":"texto"},
"size":{"field":"grupo","type":"nominal","legend":null,"scale":{"type":"ordinal","domain":["grande","media","chica"],"range":[26.7,24,21.3]}}}}
]}
